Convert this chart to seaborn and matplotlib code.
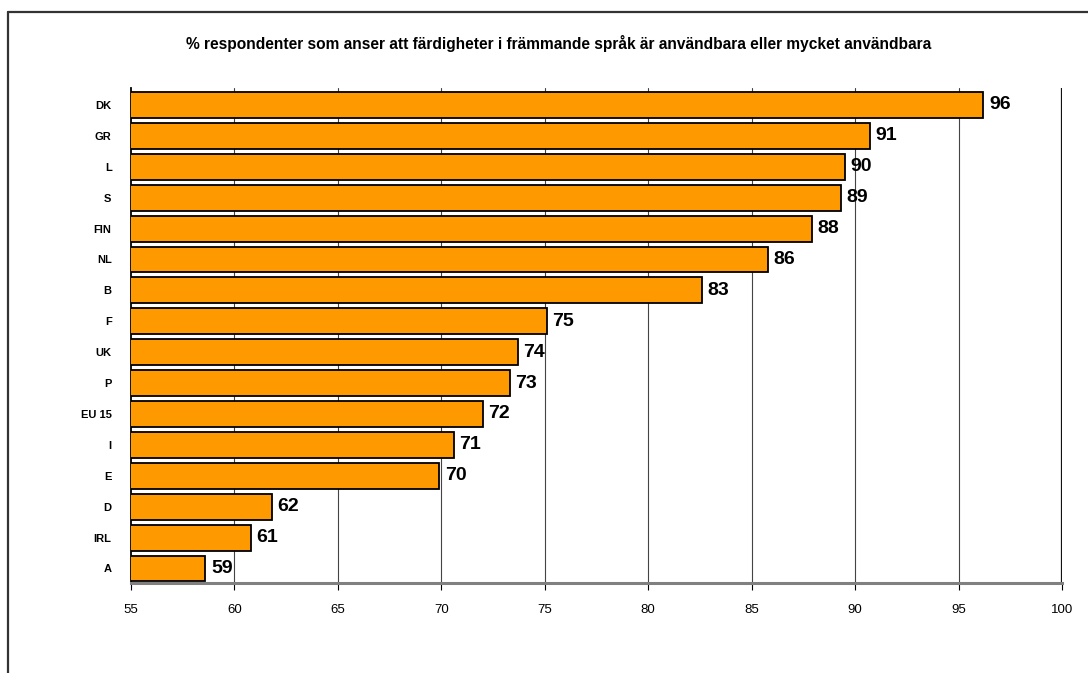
import matplotlib
matplotlib.use("Agg")
import matplotlib.pyplot as plt
import seaborn as sns
import pandas as pd
from matplotlib.lines import Line2D

countries = ["DK", "GR", "L", "S", "FIN", "NL", "B", "F", "UK", "P", "EU 15", "I", "E", "D", "IRL", "A"]
values = [96.2, 90.7, 89.5, 89.3, 87.9, 85.8, 82.6, 75.1, 73.7, 73.3, 72.0, 70.6, 69.9, 61.8, 60.8, 58.6]
labels = ["96", "91", "90", "89", "88", "86", "83", "75", "74", "73", "72", "71", "70", "62", "61", "59"]
xticks = [55, 60, 65, 70, 75, 80, 85, 90, 95, 100]
title = "% respondenter som anser att färdigheter i främmande språk är användbara eller mycket användbara"

df = pd.DataFrame({"country": countries, "value": values})

sns.set_theme(style="white")
plt.rcParams["font.family"] = ["Liberation Sans", "DejaVu Sans"]
plt.rcParams["text.color"] = "black"
plt.rcParams["xtick.color"] = "black"
plt.rcParams["ytick.color"] = "black"
plt.rcParams["axes.labelcolor"] = "black"

fig = plt.figure(figsize=(10.88, 6.73), dpi=100)
ax = fig.add_axes([131/1088, 1 - 583/673, (1062 - 131)/1088, (583 - 88)/673])

sns.barplot(data=df, x="value", y="country", orient="h", color="#FF9900",
            saturation=1, width=0.84, edgecolor="black", linewidth=1.3, ax=ax,
            zorder=3)

ax.set_xlim(55, 100)
ax.set_ylim(15.47, -0.55)
ax.set_xticks(xticks)
ax.set_xticklabels([str(t) for t in xticks], fontsize=9.5)
ax.set_yticks(range(len(countries)))
ax.set_yticklabels(countries, fontsize=8, fontweight="bold")
ax.set_xlabel("")
ax.set_ylabel("")

for t in xticks[1:-1]:
    ax.axvline(t, color="#444444", linewidth=0.8, zorder=1)
ax.axvline(100, color="#111111", linewidth=1.6, zorder=1)

ax.tick_params(axis="x", direction="out", length=5, width=0.8, color="black", pad=10, bottom=True)
ax.tick_params(axis="y", length=0, pad=14)

for s in ["top", "right"]:
    ax.spines[s].set_visible(False)
ax.spines["bottom"].set_color("#808080")
ax.spines["bottom"].set_linewidth(2.2)
ax.spines["left"].set_color("black")
ax.spines["left"].set_linewidth(1.3)

for i, (v, lab) in enumerate(zip(values, labels)):
    ax.annotate(lab, xy=(v, i), xytext=(4, 0), textcoords="offset points",
                ha="left", va="center", fontsize=14, fontweight="bold",
                color="black", zorder=5)

fig.text((183 + 935) / 2 / 1088, 1 - 43/673, title, ha="center", va="center",
         fontsize=11.2, fontweight="bold", color="black")

fig.add_artist(Line2D([8/1088, 1], [1 - 12/673, 1 - 12/673], color="#333333", linewidth=1.6, transform=fig.transFigure))
fig.add_artist(Line2D([8/1088, 8/1088], [0, 1 - 12/673], color="#333333", linewidth=1.6, transform=fig.transFigure))

fig.savefig("out.png", dpi=100)
